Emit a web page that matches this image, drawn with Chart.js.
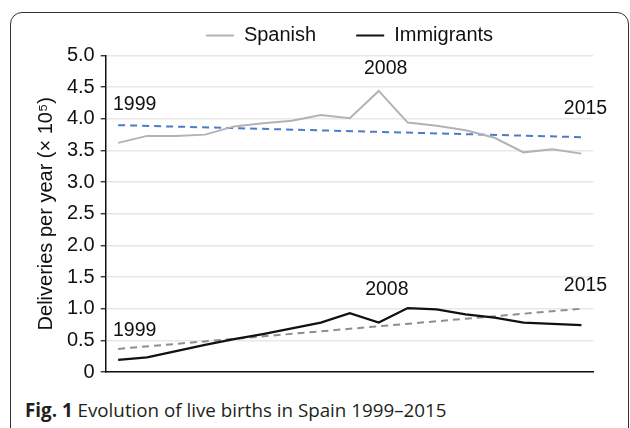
<!DOCTYPE html>
<html><head><meta charset="utf-8">
<script src="https://cdn.jsdelivr.net/npm/chart.js@4"></script>
<style>
html,body{margin:0;padding:0;background:#fff;width:630px;height:428px;overflow:hidden;}
#frame{position:absolute;left:10px;top:12px;width:619px;height:440px;border:1.5px solid #333;border-radius:12px;box-sizing:border-box;}
#wrap{position:absolute;left:0;top:0;width:630px;height:390px;}
#cap{position:absolute;left:25px;top:398px;font-family:"Open Sans",sans-serif;font-size:18.8px;color:#231f20;white-space:nowrap;line-height:24px;}
#cap b{font-weight:700;}
</style></head><body>
<div id="frame"></div>
<div id="wrap"><canvas id="c" width="630" height="390"></canvas></div>
<div id="cap"><b>Fig. 1</b> Evolution of live births in Spain 1999–2015</div>
<script>
const years = [1999,2000,2001,2002,2003,2004,2005,2006,2007,2008,2009,2010,2011,2012,2013,2014,2015];
const spanish = [3.62,3.73,3.73,3.75,3.88,3.93,3.97,4.06,4.01,4.44,3.94,3.89,3.82,3.70,3.47,3.52,3.45];
const immigrants = [0.19,0.23,0.33,0.43,0.52,0.60,0.69,0.78,0.93,0.78,1.01,0.99,0.91,0.86,0.78,0.76,0.74];
const spanishTrend = [3.90, 3.71];
const immigrantTrend = [0.365, 1.00];
const yTickLabels = ['0','0.5','1.0','1.5','2.0','2.5','3.0','3.5','4.0','4.5','5.0'];
const seriesNames = ['Spanish','Immigrants'];
const annotationYears = ['1999','2008','2015'];

const FONT = '"Liberation Sans", Arial, sans-serif';

const pts = (vals) => years.map((y, i) => ({x: y, y: vals[i]}));
const trend = (vals) => [{x: years[0], y: vals[0]}, {x: years[years.length-1], y: vals[1]}];

const annoPlugin = {
  id: 'yearLabels',
  afterDatasetsDraw(chart, args, opts) {
    const {ctx, scales: {x, y}} = chart;
    ctx.save();
    ctx.font = '19.5px ' + FONT;
    ctx.fillStyle = '#111';
    ctx.textAlign = 'center';
    ctx.textBaseline = 'alphabetic';
    opts.items.forEach(it => {
      ctx.fillText(it.text, x.getPixelForValue(it.x), y.getPixelForValue(it.y));
    });
    ctx.restore();
  }
};

new Chart(document.getElementById('c'), {
  type: 'line',
  data: {
    datasets: [
      {label: seriesNames[0], data: pts(spanish), borderColor: '#b3b3b3', backgroundColor: '#b3b3b3', borderWidth: 2, pointRadius: 0, tension: 0},
      {label: seriesNames[1], data: pts(immigrants), borderColor: '#111111', backgroundColor: '#111111', borderWidth: 2.3, pointRadius: 0, tension: 0},
      {label: 'Spanish trend', data: trend(spanishTrend), borderColor: '#4a7cc8', borderDash: [7,5], borderWidth: 2, pointRadius: 0},
      {label: 'Immigrant trend', data: trend(immigrantTrend), borderColor: '#8e8e8e', borderDash: [7,5], borderWidth: 2, pointRadius: 0}
    ]
  },
  options: {
    responsive: false,
    animation: false,
    events: [],
    layout: {padding: {top: -14.5, left: 0, right: 36.7, bottom: 15}},
    plugins: {
      tooltip: {enabled: false},
      legend: {
        position: 'top',
        fullSize: false,
        maxHeight: 78.8,
        labels: {
          boxWidth: 28, boxHeight: 2, padding: 40,
          color: '#111',
          font: {size: 20, family: FONT},
          generateLabels(chart) {
            return Chart.defaults.plugins.legend.labels.generateLabels(chart)
              .filter(i => i.datasetIndex < 2)
              .map(i => Object.assign({}, i, {lineWidth: 0}));
          }
        }
      },
      yearLabels: {
        items: [
          {text: annotationYears[0], x: 1999.57, y: 4.138},
          {text: annotationYears[1], x: 2008.24, y: 4.70},
          {text: annotationYears[2], x: 2015.14, y: 4.07},
          {text: annotationYears[0], x: 1999.57, y: 0.564},
          {text: annotationYears[1], x: 2008.28, y: 1.224},
          {text: annotationYears[2], x: 2015.14, y: 1.272}
        ]
      }
    },
    scales: {
      x: {
        type: 'linear', min: 1998.57, max: 2015.41,
        grid: {display: false, drawTicks: false},
        ticks: {display: false},
        border: {color: '#111', width: 1.5},
        afterFit(s) { s.height = 0; }
      },
      y: {
        min: 0, max: 5,
        ticks: {stepSize: 0.5, padding: 6, color: '#111', font: {size: 20, family: FONT},
          callback: (v) => yTickLabels[Math.round(v * 2)]},
        grid: {color: '#e8e8e8', lineWidth: 1.5, tickLength: 5, tickColor: '#111', tickWidth: 1.2},
        border: {color: '#111', width: 1.5},
        title: {display: true, text: 'Deliveries per year (× 10⁵)', color: '#111', font: {size: 20, family: FONT}, padding: {top: 34, bottom: 0}},
        afterFit(s) { s.width = 105.7; }
      }
    }
  },
  plugins: [annoPlugin]
});
</script>
</body></html>
